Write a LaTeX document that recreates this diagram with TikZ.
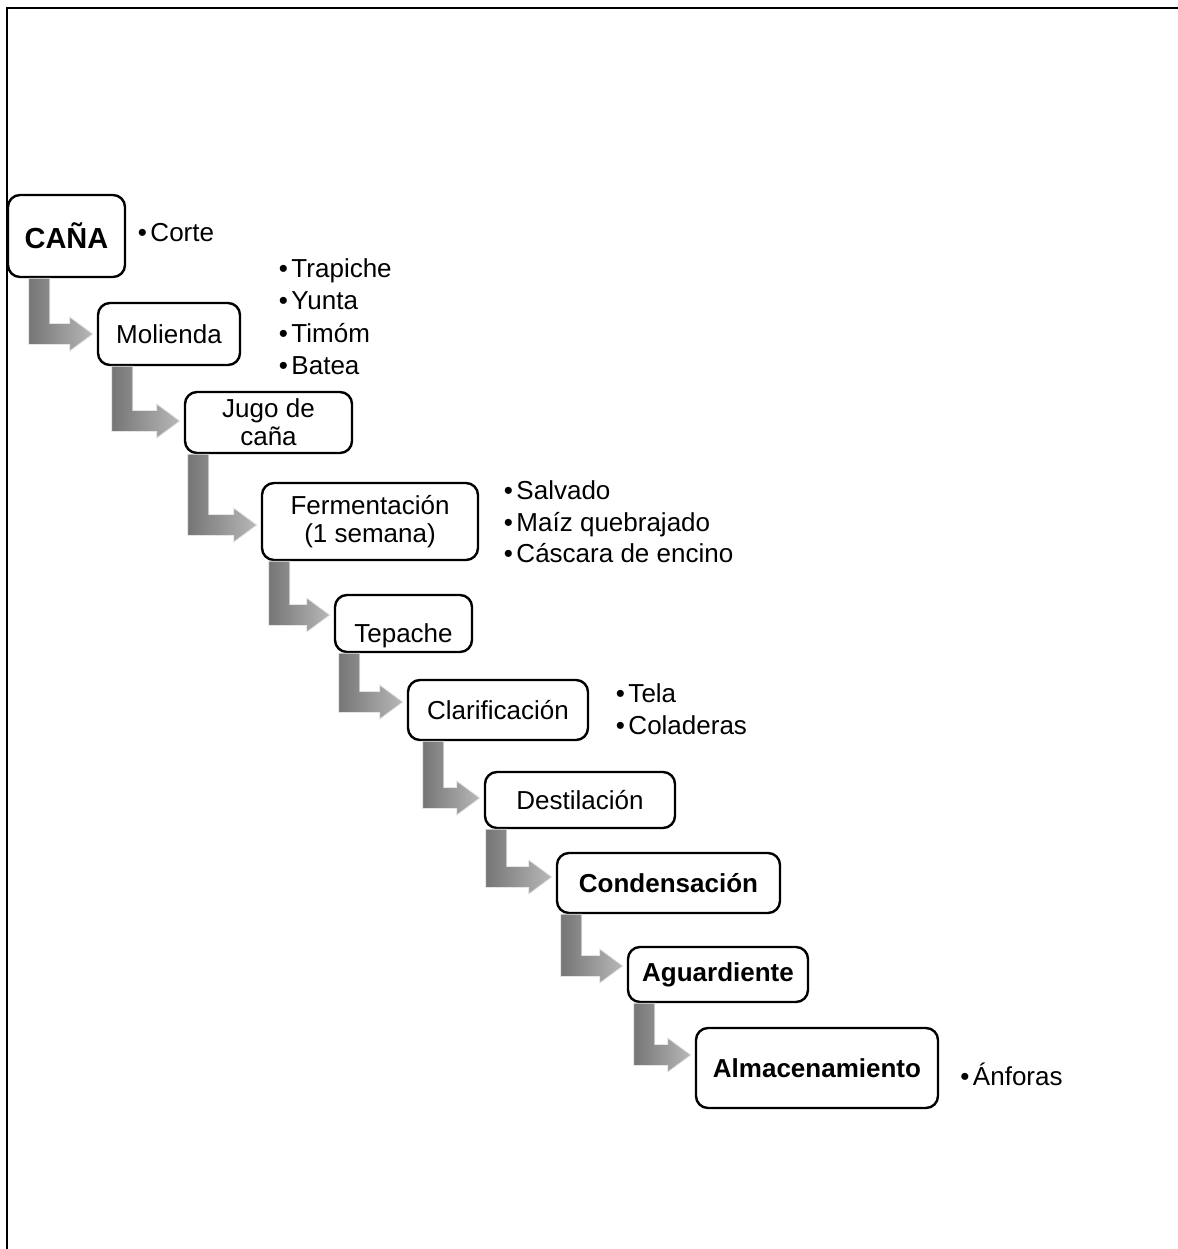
\documentclass[tikz,border=0pt]{standalone}
\usepackage{fontspec}
\setmainfont{Liberation Sans}
\usetikzlibrary{calc}
\tikzset{
  box/.style={draw, line width=1.2pt, rounded corners=6pt, fill=white, align=center,
    inner sep=0pt, font=\fontsize{13}{14}\selectfont},
  boldbox/.style={box, font=\fontsize{13}{14}\selectfont\bfseries},
  item/.style={anchor=base west, inner sep=0pt, font=\fontsize{13}{15}\selectfont},
  flowarrow/.style={left color=black!54, right color=black!28, draw=black!10, line width=0.4pt},
  frame/.style={line width=1pt}
}
% #1 from node, #2 to node, #3 bar offset (pt) from left of #1, #4 vertical shift (pt, signed)
\newcommand\flowarr[4]{%
  \path[flowarrow] let \p1=(#1.south west), \p2=(#2.west) in
   (\x1+#3pt,\y1) -- (\x1+#3pt+10.5pt,\y1) -- (\x1+#3pt+10.5pt,\y2#4pt+5.25pt)
   -- (\x2-13.5pt,\y2#4pt+5.25pt) -- (\x2-13.5pt,\y2#4pt+8.5pt) -- (\x2-2pt,\y2#4pt)
   -- (\x2-13.5pt,\y2#4pt-8.5pt) -- (\x2-13.5pt,\y2#4pt-5.25pt)
   -- (\x1+#3pt,\y2#4pt-5.25pt) -- cycle;}
\begin{document}
\begin{tikzpicture}[x=0.5pt,y=-0.5pt]
\useasboundingbox (0,0) rectangle (1178,1249);
\draw[frame] (1178,7.5) -- (7,7.5) -- (7,1249);

% boxes
\node[box, minimum width=58.5pt, minimum height=41pt, font=\fontsize{14.5}{15}\selectfont\bfseries] (cana) at (66.5,236) {CAÑA};
\node[box, minimum width=71pt, minimum height=31pt] (mol) at (169,334) {Molienda};
\node[box, minimum width=83.5pt, minimum height=30.5pt] (jugo) at (268.5,422.5) {Jugo de\\caña};
\node[box, minimum width=108pt, minimum height=38.5pt] (ferm) at (370,521.5) {Fermentación\\(1 semana)};
\node[box, minimum width=68.5pt, minimum height=28.5pt] (tep) at (403.5,623.5) {\raisebox{-6.25pt}[\height][\depth]{Tepache}};
\node[box, minimum width=90pt, minimum height=30pt] (clar) at (498,710) {Clarificación};
\node[box, minimum width=95pt, minimum height=28pt] (dest) at (580,800) {Destilación};
\node[boldbox, minimum width=111.5pt, minimum height=30pt] (cond) at (668.5,883) {Condensación};
\node[boldbox, minimum width=90pt, minimum height=27.5pt] (agua) at (718,974.5) {Aguardiente};
\node[boldbox, minimum width=121pt, minimum height=40pt] (alm) at (817,1068) {Almacenamiento};

% arrows
\flowarr{cana}{mol}{11}{+0}
\flowarr{mol}{jugo}{7.5}{+0.75}
\flowarr{jugo}{ferm}{2}{-1.75}
\flowarr{ferm}{tep}{4}{+4.25}
\flowarr{tep}{clar}{2.5}{+4}
\flowarr{clar}{dest}{8}{+1}
\flowarr{dest}{cond}{1}{+3}
\flowarr{cond}{agua}{2.5}{+4.25}
\flowarr{agua}{alm}{3.5}{+6.5}

% side lists
\node[item] (corte) at (137.5,241) {•\kern1.75pt Corte};
\node[item] (trap) at (278.5,277) {•\kern1.75pt Trapiche};
\node[item] (yunta) at (278.5,309) {•\kern1.75pt Yunta};
\node[item] (timom) at (278.5,342) {•\kern1.75pt Timóm};
\node[item] (batea) at (278.5,374) {•\kern1.75pt Batea};
\node[item] (salv) at (503.5,499) {•\kern1.75pt Salvado};
\node[item] (maiz) at (503.5,531) {•\kern1.75pt Maíz quebrajado};
\node[item] (casc) at (503.5,562) {•\kern1.75pt Cáscara de encino};
\node[item] (tela) at (615.5,702) {•\kern1.75pt Tela};
\node[item] (colad) at (615.5,734) {•\kern1.75pt Coladeras};
\node[item] (anf) at (960,1085) {•\kern1.75pt Ánforas};
\end{tikzpicture}
\end{document}
